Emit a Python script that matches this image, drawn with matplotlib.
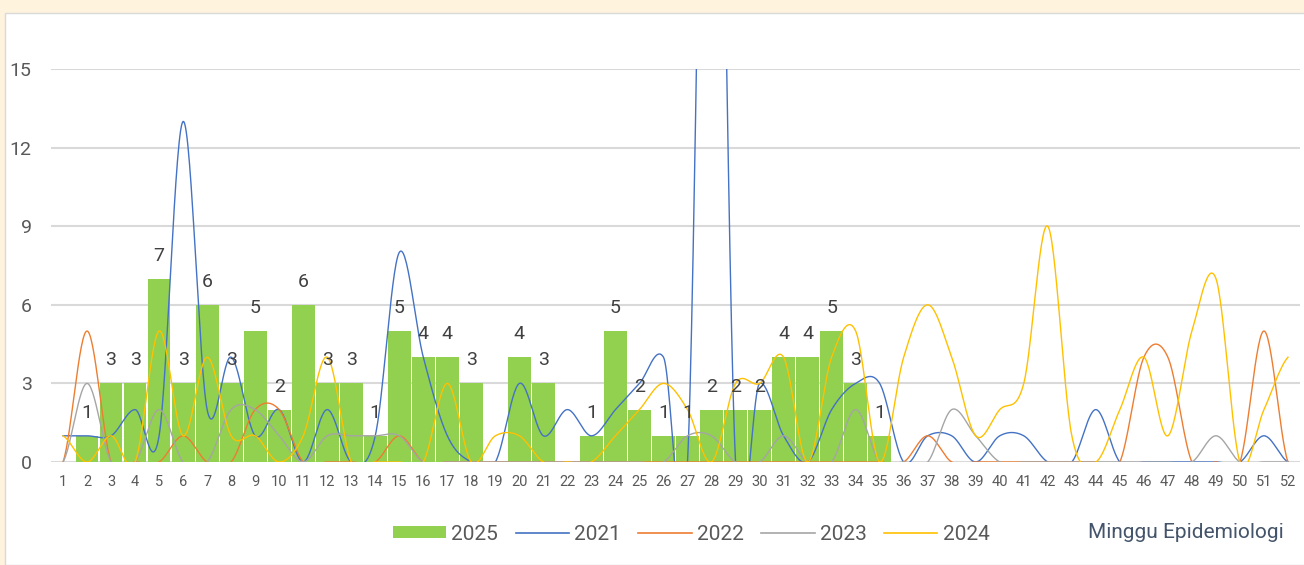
import numpy as np
import matplotlib
matplotlib.use("Agg")
import matplotlib.pyplot as plt
from matplotlib.patches import Patch, Rectangle
from matplotlib.lines import Line2D

plt.rcParams["font.family"] = ["Roboto", "DejaVu Sans"]

weeks = list(range(1, 53))

# kasus 2025 (batang), minggu 1-35
cases_2025 = [0, 1, 3, 3, 7, 3, 6, 3, 5, 2, 6, 3, 3, 1, 5, 4, 4, 3, 0, 4,
              3, 0, 1, 5, 2, 1, 1, 2, 2, 2, 4, 4, 5, 3, 1]

cases_2021 = [1, 1, 1, 2, 1, 13, 2, 4, 1, 2, 0, 2, 0, 1, 8, 4, 1, 0, 0, 3,
              1, 2, 1, 2, 3, 4, 0, 40, 0, 3, 1, 0, 2, 3, 3, 0, 1, 1, 0, 1,
              1, 0, 0, 2, 0, 0, 0, 0, 0, 0, 1, 0]
cases_2022 = [0, 5, 0, 0, 0, 1, 0, 0, 2, 2, 0, 0, 0, 0, 1, 0, 0, 0, 0, 0,
              0, 0, 0, 0, 0, 0, 0, 0, 0, 0, 0, 0, 0, 0, 0, 0, 1, 0, 0, 0,
              0, 0, 0, 0, 0, 4, 4, 0, 0, 0, 5, 0]
cases_2023 = [0, 3, 0, 0, 2, 0, 0, 2, 2, 1, 0, 1, 1, 1, 1, 0, 0, 0, 0, 0,
              0, 0, 0, 0, 0, 0, 1, 1, 0, 0, 1, 0, 0, 2, 0, 0, 0, 2, 1, 0,
              0, 0, 0, 0, 0, 0, 0, 0, 1, 0, 0, 0]
cases_2024 = [1, 0, 1, 0, 5, 1, 4, 1, 1, 0, 1, 4, 0, 0, 0, 0, 3, 0, 1, 1,
              0, 0, 0, 1, 2, 3, 2, 0, 3, 3, 4, 0, 4, 5, 0, 4, 6, 4, 1, 2,
              3, 9, 1, 0, 2, 4, 1, 5, 7, 0, 2, 4]

series = [
    ("2021", cases_2021, "#4472C4"),
    ("2022", cases_2022, "#ED7D31"),
    ("2023", cases_2023, "#A5A5A5"),
    ("2024", cases_2024, "#FFC000"),
]
BAR_COLOR = "#92D050"
TEXT_COLOR = "#595959"


def smooth(x, y, n=30):
    # catmull-rom, mirip garis "smoothed" di Excel
    x = np.asarray(x, float)
    y = np.asarray(y, float)
    yp = np.concatenate([[y[0]], y, [y[-1]]])
    xs, ys = [], []
    for i in range(len(y) - 1):
        p0, p1, p2, p3 = yp[i], yp[i + 1], yp[i + 2], yp[i + 3]
        m1 = (p2 - p0) / 2
        m2 = (p3 - p1) / 2
        t = np.linspace(0, 1, n, endpoint=False)
        h00 = 2 * t**3 - 3 * t**2 + 1
        h10 = t**3 - 2 * t**2 + t
        h01 = -2 * t**3 + 3 * t**2
        h11 = t**3 - t**2
        xs.append(x[i] + t * (x[i + 1] - x[i]))
        ys.append(h00 * p1 + h10 * m1 + h01 * p2 + h11 * m2)
    xs.append([x[-1]])
    ys.append([y[-1]])
    return np.concatenate(xs), np.concatenate(ys)


fig = plt.figure(figsize=(13.04, 5.65), dpi=100)
fig.patch.set_facecolor("white")
# bingkai krem di atas dan kiri
fig.patches.append(Rectangle((0, 0), 1, 1, transform=fig.transFigure,
                             facecolor="#FEF3DD", edgecolor="none", zorder=-10))
fig.patches.append(Rectangle((5 / 1304, 0), 1, 1 - 13 / 565, transform=fig.transFigure,
                             facecolor="white", edgecolor="#D9D9D9", lw=1.0, zorder=-9))

ax = fig.add_axes([51 / 1304, (565 - 462) / 565, 1249 / 1304, 393 / 565])
ax.set_facecolor("none")

bar_weeks = weeks[:len(cases_2025)]
ax.bar(bar_weeks, cases_2025, width=0.95, color=BAR_COLOR, zorder=2)
for w, v in zip(bar_weeks, cases_2025):
    if v > 0:
        ax.annotate(str(v), (w, v), xytext=(0, 16.5), textcoords="offset points",
                    ha="center", va="center", fontsize=14, color="#404040", zorder=5)

for name, vals, color in series:
    sx, sy = smooth(weeks, vals)
    ax.plot(sx, sy, color=color, lw=1.0, zorder=3)

ax.set_xlim(0.5, 52.5)
ax.set_ylim(0, 15)
ax.set_yticks([0, 3, 6, 9, 12, 15])
ax.set_xticks(weeks)
ax.set_xticklabels([str(w) for w in weeks])
ax.tick_params(axis="y", length=0, pad=14, labelsize=14, labelcolor=TEXT_COLOR)
ax.tick_params(axis="x", length=0, pad=9, labelsize=10.5, labelcolor=TEXT_COLOR)
ax.grid(axis="y", color="#D9D9D9", lw=1.5, zorder=0)
ax.set_axisbelow(True)
for s in ax.spines.values():
    s.set_visible(False)

handles = [Patch(facecolor=BAR_COLOR, edgecolor="none", label="2025")]
for name, vals, color in series:
    handles.append(Line2D([0], [0], color=color, lw=1.2, label=name))
fig.legend(handles=handles, loc="center", bbox_to_anchor=(691 / 1304, 1 - 534 / 565),
           ncol=5, frameon=False, fontsize=15, handlelength=2.55, handleheight=0.55,
           handletextpad=0.25, columnspacing=0.85, labelcolor=TEXT_COLOR)
fig.text(1186 / 1304, 1 - 533 / 565, "Minggu Epidemiologi", ha="center", va="center",
         fontsize=15, color="#44546A")

fig.savefig("out.png", dpi=100)
